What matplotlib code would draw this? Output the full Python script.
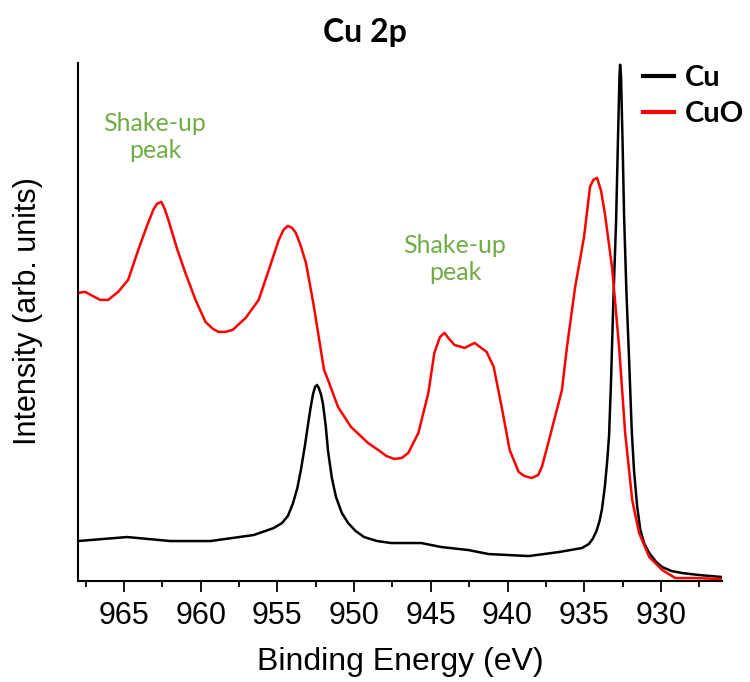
import numpy as np
import matplotlib.pyplot as plt
from matplotlib.ticker import MultipleLocator
from matplotlib.lines import Line2D

plt.rcParams["font.family"] = ["Liberation Sans", "DejaVu Sans"]

# Cu 2p spectrum of metallic Cu (binding energy in eV, intensity in arb. units)
cu_energy = [968.0, 964.79, 961.98, 959.36, 956.55, 955.24, 954.70, 954.32,
             954.00, 953.70, 953.47, 953.20, 953.01, 952.85, 952.69, 952.55,
             952.42, 952.30, 952.15, 952.03, 951.85, 951.70, 951.45, 951.18,
             950.80, 950.39, 949.90, 949.35, 948.50, 947.58, 945.62, 944.31,
             942.55, 941.23, 938.61, 936.65, 935.15, 934.70, 934.45, 934.20,
             934.00, 933.84, 933.65, 933.50, 933.38, 933.25, 933.10, 932.92,
             932.80, 932.70, 932.66, 932.60, 932.50, 932.40, 932.25, 932.07,
             931.90, 931.75, 931.55, 931.35, 931.10, 930.76, 930.30, 929.91,
             929.30, 928.60, 927.50, 925.98]
cu_intensity = [40, 44, 40, 40, 46, 53, 58, 65,
                77, 93, 111, 136, 156, 172, 186, 194,
                196, 193, 186, 177, 155, 130, 103, 84,
                68, 58, 50, 44, 40, 38, 38, 34,
                31, 27, 25, 29, 33, 37, 42, 50,
                60, 72, 95, 120, 145, 200, 280, 360,
                440, 505, 516, 505, 440, 365, 290, 220,
                150, 110, 75, 52, 38, 28, 19, 14,
                10, 8, 6, 4]

# Cu 2p spectrum of CuO with the satellite (shake-up) structure
cuo_energy = [968.0, 967.54, 966.56, 966.04, 965.38, 964.73, 964.07, 963.48,
              963.09, 962.85, 962.57, 962.35, 962.11, 961.52, 961.00, 960.34,
              959.69, 959.20, 958.84, 958.40, 957.92, 957.07, 956.22, 955.56,
              954.91, 954.60, 954.32, 954.05, 953.80, 953.50, 953.14, 952.90,
              952.62, 951.96, 951.70, 951.05, 950.20, 949.09, 948.24, 947.90,
              947.38, 946.90, 946.47, 945.81, 945.16, 944.77, 944.40, 944.11,
              943.80, 943.46, 942.80, 942.15, 941.36, 940.90, 940.38, 939.86,
              939.27, 938.90, 938.42, 938.00, 937.76, 937.24, 936.45, 936.13,
              935.60, 935.01, 934.62, 934.40, 934.16, 933.90, 933.64, 933.18,
              932.72, 932.33, 931.87, 931.42, 930.76, 929.91, 929.06, 927.75,
              925.98]
cuo_intensity = [288, 289, 281, 281, 289, 301, 331, 356,
                 371, 377, 379, 372, 361, 331, 308, 281,
                 259, 252, 249, 249, 251, 263, 281, 311,
                 341, 351, 355, 353, 348, 336, 318, 298,
                 274, 211, 201, 174, 154, 138, 129, 125,
                 122, 123, 128, 148, 188, 228, 244, 248,
                 242, 236, 233, 238, 229, 214, 174, 131,
                 109, 105, 103, 106, 114, 144, 191, 233,
                 293, 344, 394, 401, 403, 390, 366, 313,
                 233, 148, 81, 48, 24, 11, 3, 3,
                 2]

fig = plt.figure(figsize=(7.5, 6.82), dpi=100)
ax = fig.add_axes([0.104, 0.148, 0.859, 0.760])

ax.plot(cu_energy, cu_intensity, color="black", lw=1.8)
ax.plot(cuo_energy, cuo_intensity, color="red", lw=1.8)

ax.set_xlim(968, 926)
ax.set_ylim(0, 518)
ax.xaxis.set_major_locator(MultipleLocator(5))
ax.xaxis.set_minor_locator(MultipleLocator(2.5))
ax.tick_params(axis="x", which="major", length=8, width=1.3, labelsize=22, pad=6)
ax.tick_params(axis="x", which="minor", length=4, width=1.3)
ax.set_yticks([])
for side in ("top", "right"):
    ax.spines[side].set_visible(False)
for side in ("left", "bottom"):
    ax.spines[side].set_linewidth(1.5)

ax.set_xlabel("Binding Energy (eV)", fontsize=23, labelpad=12)
ax.set_ylabel("Intensity (arb. units)", fontsize=22)
ax.yaxis.set_label_coords(-0.055, 0.52)

fig.text(0.487, 0.953, "Cu 2p", fontsize=23, fontweight="bold",
         family=["Lato", "DejaVu Sans"], ha="center", va="center")

green = "#70AD47"
fig.text(155 / 750, 1 - 137 / 682, "Shake-up\npeak", color=green, fontsize=18,
         family=["Lato", "DejaVu Sans"], ha="center", va="center", linespacing=1.25)
fig.text(455 / 750, 1 - 259 / 682, "Shake-up\npeak", color=green, fontsize=18,
         family=["Lato", "DejaVu Sans"], ha="center", va="center", linespacing=1.25)

handles = [Line2D([], [], color="black", lw=3), Line2D([], [], color="red", lw=3)]
fig.legend(handles, ["Cu", "CuO"], loc="upper left",
           bbox_to_anchor=(643 / 750, 1 - 65 / 682), frameon=False,
           prop={"family": ["Lato", "DejaVu Sans"], "weight": "bold", "size": 21},
           handlelength=1.05, handletextpad=0.4, labelspacing=0.35, borderpad=0,
           borderaxespad=0)

fig.savefig("out.png", dpi=100)
